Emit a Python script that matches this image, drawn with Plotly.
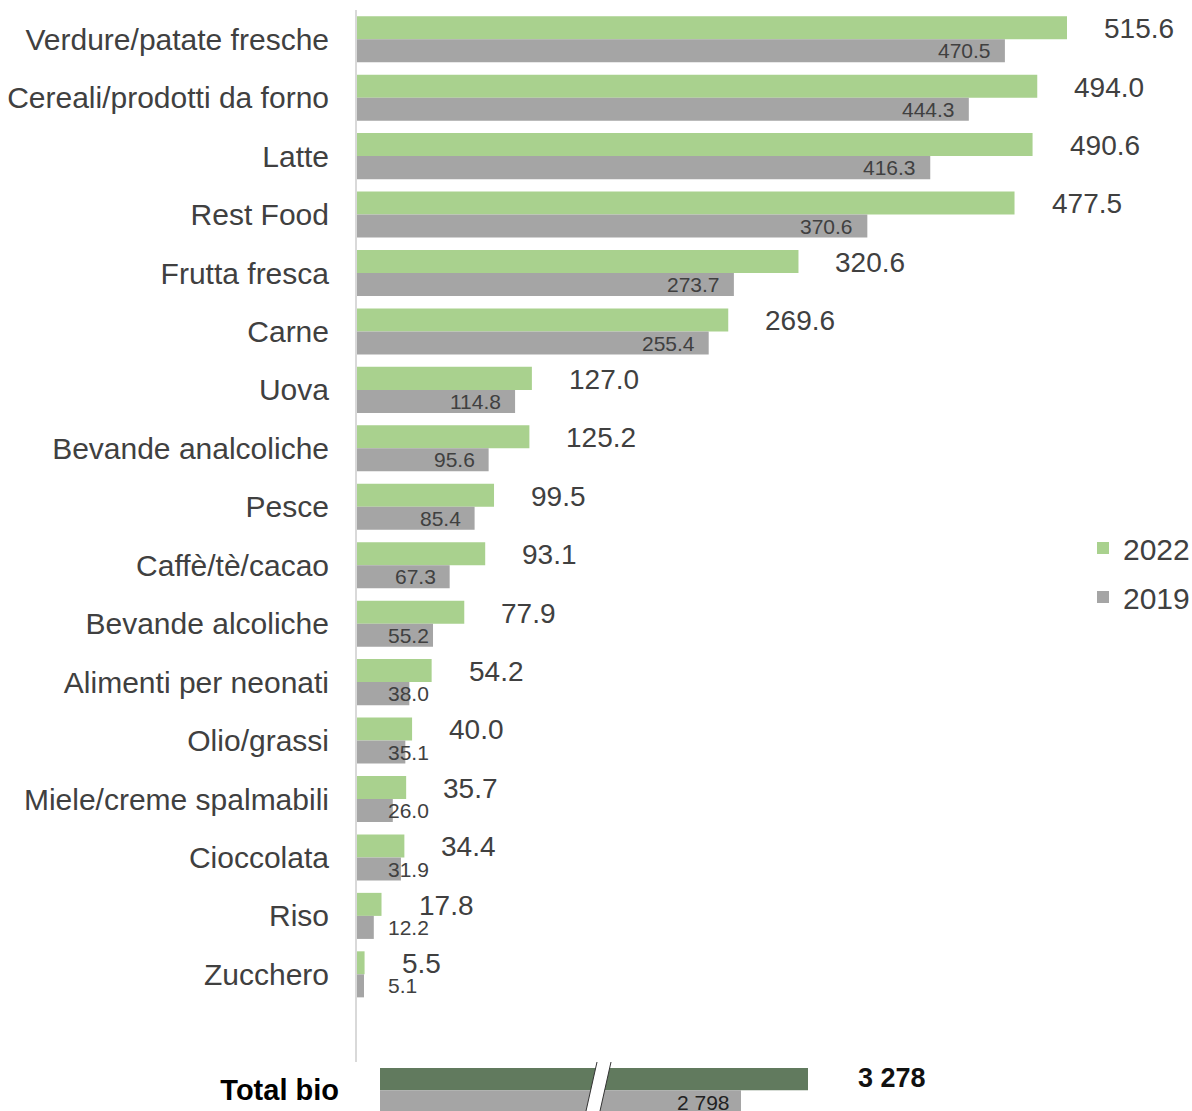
import plotly.graph_objects as go

categories = ["Verdure/patate fresche", "Cereali/prodotti da forno", "Latte", "Rest Food",
              "Frutta fresca", "Carne", "Uova", "Bevande analcoliche", "Pesce", "Caffè/tè/cacao",
              "Bevande alcoliche", "Alimenti per neonati", "Olio/grassi", "Miele/creme spalmabili",
              "Cioccolata", "Riso", "Zucchero"]
v2022 = [515.6, 494.0, 490.6, 477.5, 320.6, 269.6, 127.0, 125.2, 99.5, 93.1, 77.9, 54.2, 40.0, 35.7, 34.4, 17.8, 5.5]
v2019 = [470.5, 444.3, 416.3, 370.6, 273.7, 255.4, 114.8, 95.6, 85.4, 67.3, 55.2, 38.0, 35.1, 26.0, 31.9, 12.2, 5.1]
total_label = "Total bio"
total_2022 = 3278
total_2019 = 2798

W, H = 1192, 1111
FONT = "Liberation Sans"
GREEN = "#a9d18e"
GRAY = "#a5a5a5"
DARK_GREEN = "#617a5e"
TXT = "#404040"

# main axis geometry (pixels)
ax_left = 357
ax_right = W
px_per_unit = 710 / 515.6
x_range_max = (ax_right - ax_left) / px_per_unit
y_top, y_bot = 10, 1062

fig = go.Figure()
fig.add_trace(go.Bar(y=categories, x=v2022, orientation="h", name="2022",
                     marker=dict(color=GREEN, line=dict(width=0)), legendgroup="a",
                     xaxis="x", yaxis="y"))
fig.add_trace(go.Bar(y=categories, x=v2019, orientation="h", name="2019",
                     marker=dict(color=GRAY, line=dict(width=0)), legendgroup="b",
                     xaxis="x", yaxis="y"))
fig.add_trace(go.Bar(y=[total_label], x=[total_2022], orientation="h", showlegend=False,
                     marker=dict(color=DARK_GREEN, line=dict(width=0)), xaxis="x2", yaxis="y2"))
fig.add_trace(go.Bar(y=[total_label], x=[total_2019], orientation="h", showlegend=False,
                     marker=dict(color=GRAY, line=dict(width=0)), xaxis="x2", yaxis="y2"))

annotations = []
half = 11.6
for c, a, b in zip(categories, v2022, v2019):
    annotations.append(dict(x=a, y=c, xref="x", yref="y", text=f"{a:.1f}", showarrow=False,
                            xanchor="left", xshift=35, yshift=half - 1,
                            font=dict(family=FONT, size=28, color=TXT)))
    txt = f"{b:.1f}"
    w_est = 21 * (0.556 * (len(txt) - 1) + 0.278)
    if b * px_per_unit - 15 - w_est >= 33:
        annotations.append(dict(x=b, y=c, xref="x", yref="y", text=txt, showarrow=False,
                                xanchor="right", xshift=-12, yshift=-half,
                                font=dict(family=FONT, size=21, color=TXT)))
    else:
        annotations.append(dict(x=0, y=c, xref="x", yref="y", text=txt, showarrow=False,
                                xanchor="left", xshift=29, yshift=-half,
                                font=dict(family=FONT, size=21, color=TXT)))

def fmt_thousands(v):
    return f"{v:,.0f}".replace(",", " ")

annotations.append(dict(x=total_2022, y=total_label, xref="x2", yref="y2", text=f"<b>{fmt_thousands(total_2022)}</b>",
                        showarrow=False, xanchor="left", xshift=48, yshift=12,
                        font=dict(family=FONT, size=27, color="#111111")))
annotations.append(dict(x=total_2019, y=total_label, xref="x2", yref="y2", text=fmt_thousands(total_2019),
                        showarrow=False, xanchor="right", xshift=-9, yshift=-12,
                        font=dict(family=FONT, size=21, color="#222222")))

def px(x):
    return x / W

def py(y):
    return 1 - y / H

shapes = [
    dict(type="path", xref="paper", yref="paper",
         path=f"M {px(597)},{py(1062)} L {px(611)},{py(1062)} L {px(600)},{py(1111)} L {px(586)},{py(1111)} Z",
         fillcolor="white", line=dict(width=0)),
    dict(type="line", xref="paper", yref="paper", x0=px(597), y0=py(1062), x1=px(586), y1=py(1111),
         line=dict(color="#333333", width=1)),
    dict(type="line", xref="paper", yref="paper", x0=px(611), y0=py(1062), x1=px(600), y1=py(1111),
         line=dict(color="#333333", width=1)),
]

# total subplot scale (broken axis)
x2_left, x2_right = 380, 1000
k2 = (808 - 741) / (total_2022 - total_2019)
x2_start = total_2022 - (808 - x2_left) / k2
x2_end = x2_start + (x2_right - x2_left) / k2

fig.update_layout(
    width=W, height=H,
    margin=dict(l=0, r=0, t=0, b=0, autoexpand=False),
    paper_bgcolor="white", plot_bgcolor="rgba(0,0,0,0)",
    barmode="group", bargap=0.212, bargroupgap=0,
    font=dict(family=FONT, color=TXT),
    xaxis=dict(domain=[px(ax_left), 1], range=[0, x_range_max], visible=False, fixedrange=True),
    yaxis=dict(domain=[py(y_bot), py(y_top)], type="category", categoryarray=categories,
               range=[17.5, -0.5], showline=True, linecolor="#d9d9d9", linewidth=2,
               showgrid=False, zeroline=False, ticks="", ticklabelstandoff=20,
               tickfont=dict(family=FONT, size=30, color=TXT)),
    xaxis2=dict(domain=[px(x2_left), px(x2_right)], range=[x2_start, x2_end], visible=False,
                anchor="y2"),
    yaxis2=dict(domain=[0, py(1066)], type="category", categoryarray=[total_label],
                range=[0.37, -0.43], anchor="x2", showline=False, showgrid=False, zeroline=False,
                ticks="", ticklabelstandoff=40,
                tickfont=dict(family=FONT, size=29, color="#000000", weight="bold")),
    legend=dict(x=px(1083), y=py(522), xanchor="left", yanchor="top",
                font=dict(family=FONT, size=30, color=TXT), tracegroupgap=7,
                bgcolor="rgba(0,0,0,0)", traceorder="grouped"),
    annotations=annotations,
    shapes=shapes,
)

fig.write_html("out.html")
